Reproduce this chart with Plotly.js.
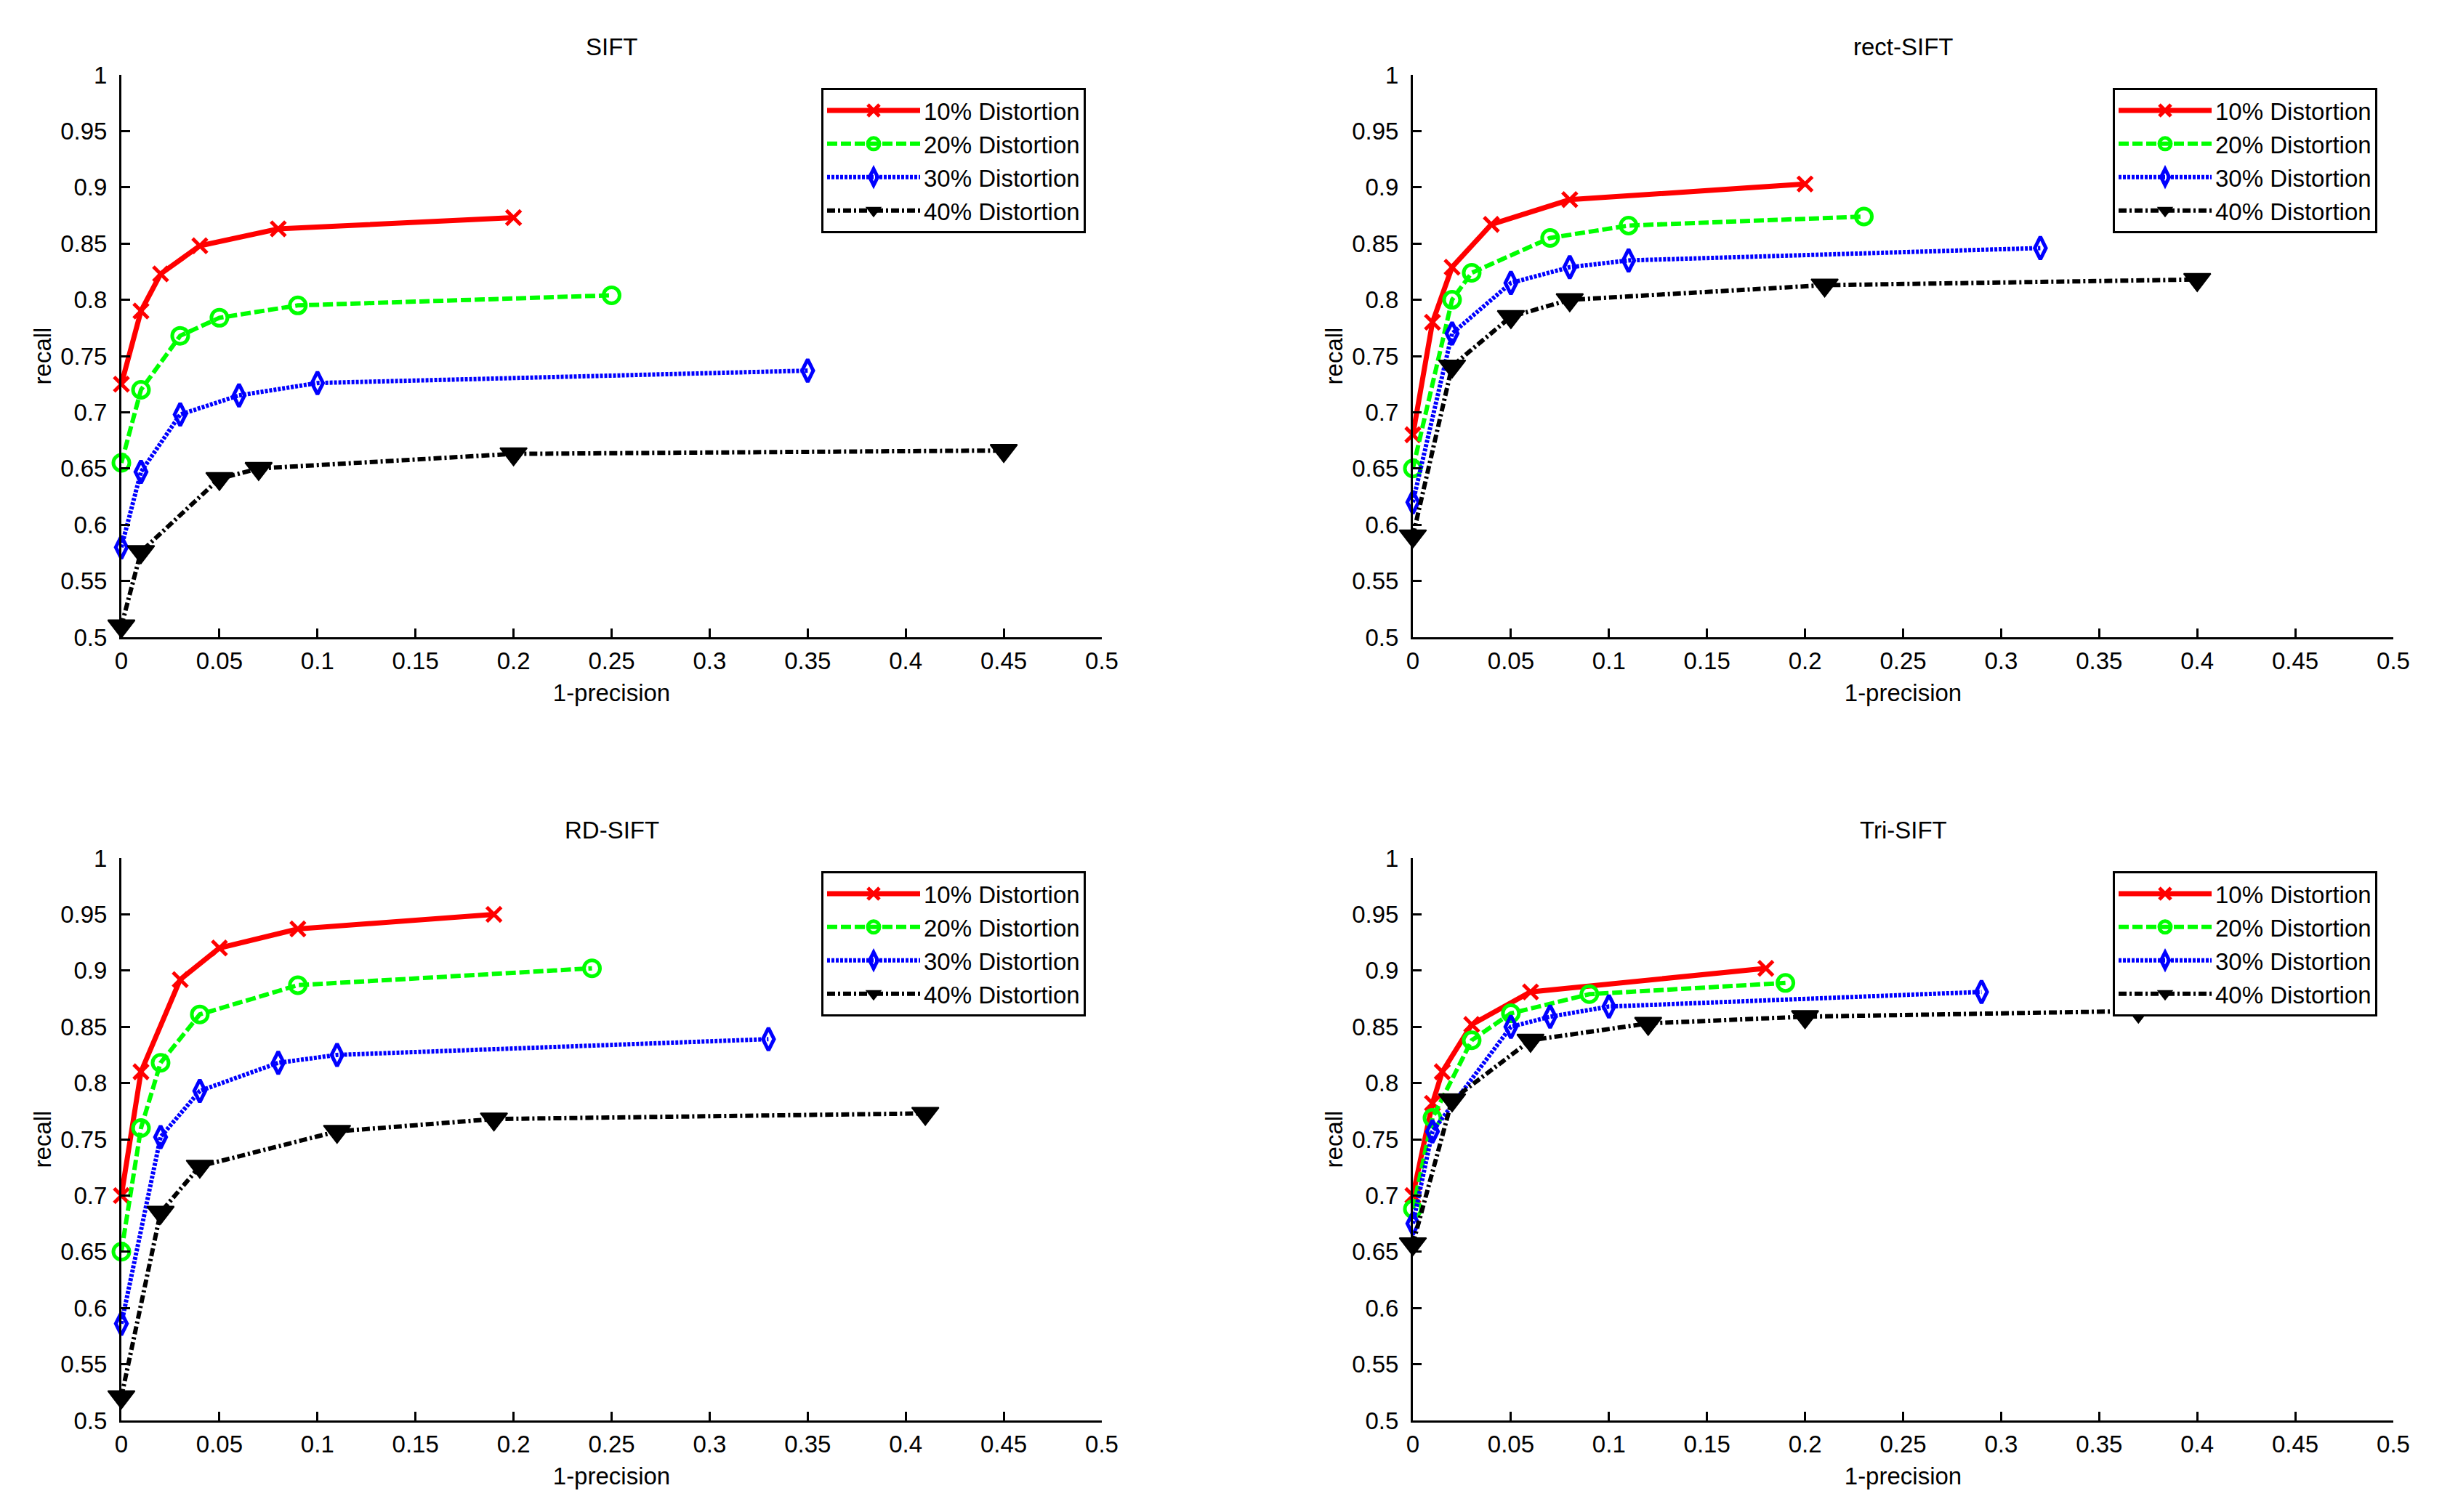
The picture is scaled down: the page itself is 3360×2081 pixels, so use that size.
<!DOCTYPE html>
<html><head><meta charset="utf-8">
<script src="https://cdn.plot.ly/plotly-3.0.1.min.js"></script>
<style>html,body{margin:0;padding:0;background:#fff;}</style>
</head><body><div id="chart" style="width:3360px;height:2081px;"></div>
<script>
// ---- data ----
const panelTitles = ['SIFT', 'rect-SIFT', 'RD-SIFT', 'Tri-SIFT'];
const seriesNames = ['10% Distortion', '20% Distortion', '30% Distortion', '40% Distortion'];
const xTickVals = [0, 0.05, 0.1, 0.15, 0.2, 0.25, 0.3, 0.35, 0.4, 0.45, 0.5];
const xTickText = ['0', '0.05', '0.1', '0.15', '0.2', '0.25', '0.3', '0.35', '0.4', '0.45', '0.5'];
const yTickVals = [0.5, 0.55, 0.6, 0.65, 0.7, 0.75, 0.8, 0.85, 0.9, 0.95, 1];
const yTickText = ['0.5', '0.55', '0.6', '0.65', '0.7', '0.75', '0.8', '0.85', '0.9', '0.95', '1'];

// SIFT
const sift10x = [0, 0.01, 0.02, 0.04, 0.08, 0.2];
const sift10y = [0.725, 0.79, 0.823, 0.848, 0.863, 0.873];
const sift20x = [0, 0.01, 0.03, 0.05, 0.09, 0.25];
const sift20y = [0.655, 0.72, 0.768, 0.784, 0.795, 0.804];
const sift30x = [0, 0.01, 0.03, 0.06, 0.1, 0.35];
const sift30y = [0.58, 0.647, 0.698, 0.715, 0.726, 0.737];
const sift40x = [0, 0.01, 0.05, 0.07, 0.2, 0.45];
const sift40y = [0.51, 0.576, 0.641, 0.65, 0.663, 0.666];

// rect-SIFT
const rect10x = [0, 0.01, 0.02, 0.04, 0.08, 0.2];
const rect10y = [0.68, 0.78, 0.829, 0.867, 0.889, 0.903];
const rect20x = [0, 0.02, 0.03, 0.07, 0.11, 0.23];
const rect20y = [0.65, 0.80, 0.824, 0.855, 0.866, 0.874];
const rect30x = [0, 0.02, 0.05, 0.08, 0.11, 0.32];
const rect30y = [0.62, 0.77, 0.815, 0.829, 0.835, 0.846];
const rect40x = [0, 0.02, 0.05, 0.08, 0.21, 0.40];
const rect40y = [0.59, 0.741, 0.785, 0.80, 0.813, 0.818];

// RD-SIFT
const rd10x = [0, 0.01, 0.03, 0.05, 0.09, 0.19];
const rd10y = [0.70, 0.81, 0.892, 0.92, 0.937, 0.95];
const rd20x = [0, 0.01, 0.02, 0.04, 0.09, 0.24];
const rd20y = [0.65, 0.76, 0.818, 0.861, 0.887, 0.902];
const rd30x = [0, 0.02, 0.04, 0.08, 0.11, 0.33];
const rd30y = [0.586, 0.752, 0.793, 0.818, 0.825, 0.839];
const rd40x = [0, 0.02, 0.04, 0.11, 0.19, 0.41];
const rd40y = [0.521, 0.685, 0.726, 0.757, 0.768, 0.773];

// Tri-SIFT
const tri10x = [0, 0.01, 0.015, 0.03, 0.06, 0.18];
const tri10y = [0.70, 0.782, 0.81, 0.852, 0.881, 0.902];
const tri20x = [0, 0.01, 0.03, 0.05, 0.09, 0.19];
const tri20y = [0.688, 0.769, 0.838, 0.862, 0.879, 0.889];
const tri30x = [0, 0.01, 0.05, 0.07, 0.1, 0.29];
const tri30y = [0.675, 0.757, 0.85, 0.859, 0.868, 0.881];
const tri40x = [0, 0.02, 0.06, 0.12, 0.2, 0.37];
const tri40y = [0.657, 0.785, 0.838, 0.853, 0.859, 0.864];

// ---- styling ----
const FONT = 'Liberation Sans, Arial, Helvetica, sans-serif';
const styles = [
  {color: '#ff0000', width: 7, dash: 'solid', symbol: 'x-thin-open', size: 20, mlw: 5},
  {color: '#00ff00', width: 6, dash: '14px,5px', symbol: 'circle-open', size: 22, mlw: 5},
  {color: '#0000ff', width: 6, dash: '4px,2px', symbol: 'diamond-tall-open', size: 22, mlw: 5},
  {color: '#000000', width: 6, dash: '11px,4px,3px,4px', symbol: 'triangle-down', size: 32, mlw: 2}
];

const panels = [
  [[sift10x, sift10y], [sift20x, sift20y], [sift30x, sift30y], [sift40x, sift40y]],
  [[rect10x, rect10y], [rect20x, rect20y], [rect30x, rect30y], [rect40x, rect40y]],
  [[rd10x, rd10y], [rd20x, rd20y], [rd30x, rd30y], [rd40x, rd40y]],
  [[tri10x, tri10y], [tri20x, tri20y], [tri30x, tri30y], [tri40x, tri40y]]
];

const traces = [];
panels.forEach((series, p) => {
  const sfx = p === 0 ? '' : String(p + 1);
  series.forEach((xy, s) => {
    const st = styles[s];
    traces.push({
      type: 'scatter', mode: 'lines+markers',
      x: xy[0], y: xy[1],
      xaxis: 'x' + sfx, yaxis: 'y' + sfx,
      legend: 'legend' + sfx,
      name: seriesNames[s],
      cliponaxis: false,
      line: {color: st.color, width: st.width, dash: st.dash},
      marker: {symbol: st.symbol, size: st.size, color: st.color, line: {color: st.color, width: st.mlw}}
    });
  });
});

const W = 3360, H = 2081;
const xDomains = [[167 / W, 1516 / W], [1944 / W, 3293 / W]];
const yDomains = [[1 - 877 / H, 1 - 103 / H], [1 - 1955 / H, 1 - 1181 / H]];

function xAxis(domain, anchor) {
  return {
    domain: domain, anchor: anchor, range: [0, 0.5],
    tickmode: 'array', tickvals: xTickVals, ticktext: xTickText,
    ticks: 'inside', ticklen: 12, tickwidth: 3, tickcolor: '#000',
    showline: true, linewidth: 3, linecolor: '#000',
    showgrid: false, zeroline: false, fixedrange: true,
    ticklabelstandoff: 1,
    tickfont: {family: FONT, size: 33, color: '#000'},
    title: {text: '1-precision', font: {family: FONT, size: 33, color: '#000'}, standoff: 16}
  };
}
function yAxis(domain, anchor) {
  return {
    domain: domain, anchor: anchor, range: [0.5, 1],
    tickmode: 'array', tickvals: yTickVals, ticktext: yTickText,
    ticks: 'inside', ticklen: 12, tickwidth: 3, tickcolor: '#000',
    showline: true, linewidth: 3, linecolor: '#000',
    showgrid: false, zeroline: false, fixedrange: true,
    ticklabelstandoff: 10,
    tickfont: {family: FONT, size: 33, color: '#000'},
    title: {text: 'recall', font: {family: FONT, size: 33, color: '#000'}, standoff: 3}
  };
}

const layout = {
  width: W, height: H,
  margin: {l: 0, r: 0, t: 0, b: 0},
  paper_bgcolor: '#fff', plot_bgcolor: '#fff',
  font: {family: FONT, size: 33, color: '#000'},
  xaxis: xAxis(xDomains[0], 'y'), yaxis: yAxis(yDomains[0], 'x'),
  xaxis2: xAxis(xDomains[1], 'y2'), yaxis2: yAxis(yDomains[0], 'x2'),
  xaxis3: xAxis(xDomains[0], 'y3'), yaxis3: yAxis(yDomains[1], 'x3'),
  xaxis4: xAxis(xDomains[1], 'y4'), yaxis4: yAxis(yDomains[1], 'x4'),
  annotations: panelTitles.map((t, i) => ({
    text: t, showarrow: false,
    xref: (i === 0 ? 'x' : 'x' + (i + 1)) + ' domain',
    yref: (i === 0 ? 'y' : 'y' + (i + 1)) + ' domain',
    x: 0.5, y: 1, xanchor: 'center', yanchor: 'bottom', yshift: 18,
    font: {family: FONT, size: 33, color: '#000'}
  }))
};

const legendPos = [[1130 / W, 1 - 121 / H], [2907 / W, 1 - 121 / H], [1130 / W, 1 - 1199 / H], [2907 / W, 1 - 1199 / H]];
legendPos.forEach((pos, i) => {
  const key = i === 0 ? 'legend' : 'legend' + (i + 1);
  layout[key] = {
    x: pos[0], y: pos[1], xanchor: 'left', yanchor: 'top',
    xref: 'paper', yref: 'paper',
    bgcolor: '#fff', bordercolor: '#000', borderwidth: 3,
    itemwidth: 128, traceorder: 'normal',
    font: {family: FONT, size: 33, color: '#000'}
  };
});

Plotly.newPlot('chart', traces, layout, {displayModeBar: false, staticPlot: true});
</script>
</body></html>
